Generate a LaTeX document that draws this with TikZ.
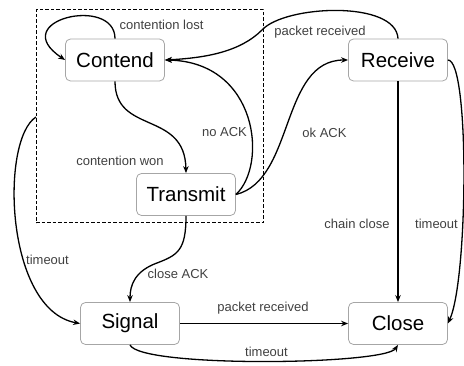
\documentclass[tikz,border=0pt]{standalone}
\usepackage{fontspec}
\setmainfont{Liberation Sans}
\usetikzlibrary{arrows.meta}
\begin{document}
\begin{tikzpicture}[x=1pt,y=-1pt,
  state/.style={draw=gray!70,line width=0.8pt,rounded corners=5pt,minimum width=99pt,minimum height=42pt,inner sep=0pt,font=\fontsize{20.5}{24}\selectfont},
  lbl/.style={font=\fontsize{13}{15}\selectfont,text=black!75,inner sep=0pt},
  edge/.style={line width=1.3pt,-{Stealth[length=7pt,width=5.5pt]}},
  region/.style={draw,dashed,line width=1pt,dash pattern=on 3.5pt off 2pt}]
\useasboundingbox (0,0) rectangle (464,366);
\node[region,minimum width=227pt,minimum height=213pt,inner sep=0pt] (reg) at (149.5,116.5) {};
\node[state] (C) at (115,60) {Contend};
\node[state] (R) at (398,60) {Receive};
\node[state] (T) at (186,194.5) {Transmit};
\node[state] (S) at (130,323.5) {Signal};
\node[state] (L) at (398,323.5) {Close};
\coordinate (ts) at (36,117);
% contention lost
\draw[edge] (C.north) .. controls (115,-5) and (5,20) .. (C.west);
\node[lbl] (l1) at (161.5,25) {contention lost};
% packet received (Receive -> Contend)
\draw[edge] (R.north) .. controls (396,0) and (285,5) .. (262,30) .. controls (240,52) and (205,58) .. (C.east);
\node[lbl] (l2) at (320,32) {packet received};
% no ACK
\draw[edge] (T.east) .. controls (268,165) and (258,62) .. (C.east);
\node[lbl] (l3) at (224.5,132) {no ACK};
% contention won
\draw[edge] (C.south) .. controls (115,135) and (185,110) .. (T.north);
\node[lbl] (l4) at (120,160.5) {contention won};
% ok ACK
\draw[edge] (T.east) .. controls (295,180) and (280,60) .. (R.west);
\node[lbl] (l5) at (324.5,133) {ok ACK};
% close ACK
\draw[edge] (T.south) .. controls (186,250) and (178,255) .. (157,263) .. controls (135,271) and (130,285) .. (S.north);
\node[lbl] (l6) at (178,274) {close ACK};
% timeout left
\draw[edge] (ts) .. controls (0,140) and (5,310) .. (S.west);
\node[lbl] (l7) at (47.5,260) {timeout};
% chain close
\draw[edge] (R.south) -- (L.north);
\node[lbl] (l8) at (357,224) {chain close};
% timeout right
\draw[edge] (R.east) .. controls (470,60) and (468,280) .. (L.east);
\node[lbl] (l9) at (436.5,224) {timeout};
% packet received bottom
\draw[edge] (S.east) -- (L.west);
\node[lbl] (l10) at (263,308) {packet received};
% timeout bottom
\draw[edge] (S.south) .. controls (140,368) and (385,365) .. (L.south);
\node[lbl] (l11) at (266.5,351.5) {timeout};
\end{tikzpicture}
\end{document}
